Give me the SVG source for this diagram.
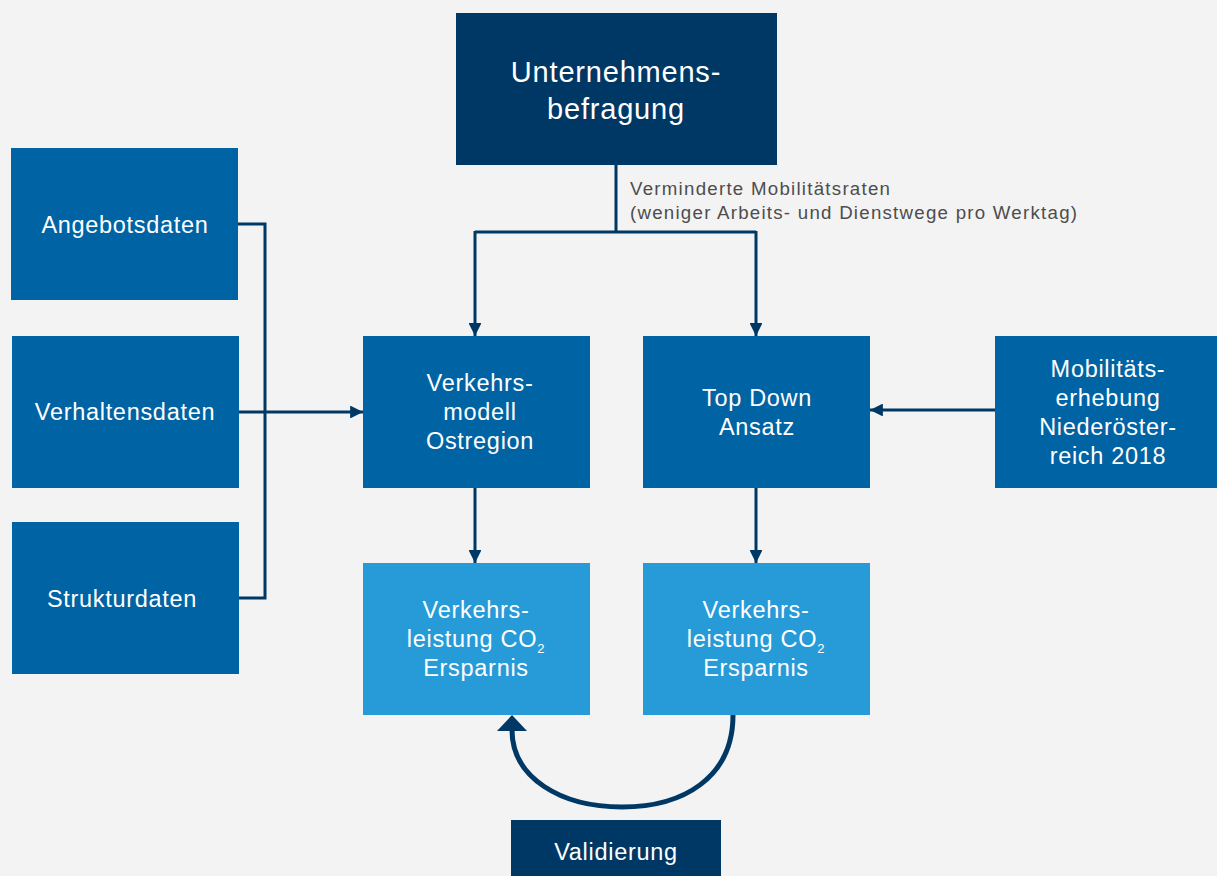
<svg xmlns="http://www.w3.org/2000/svg" width="1217" height="876" viewBox="0 0 1217 876">
<defs>
<style>
.bg{fill:#f3f3f3}
.dark{fill:#003865}
.mid{fill:#0063a3}
.light{fill:#269bd8}
.t{font-family:"Liberation Sans",Arial,sans-serif;fill:#ffffff;text-anchor:middle;font-size:23.5px;letter-spacing:0.7px}
.big{font-size:29px;letter-spacing:0.8px}
.lbl{font-family:"Liberation Sans",Arial,sans-serif;fill:#4d4d4d;font-size:18.7px}
.c{fill:none;stroke:#003865;stroke-width:3}
</style>
<marker id="ah" viewBox="0 0 10 10" refX="10" refY="5" markerWidth="4.3" markerHeight="4.3" orient="auto" markerUnits="strokeWidth">
<path d="M0,0 L10,5 L0,10 z" fill="#003865"/>
</marker>
</defs>
<rect class="bg" x="0" y="0" width="1217" height="876"/>
<g id="connectors">
<path class="c" d="M616,165 V232 M475,232 H756"/>
<path class="c" d="M475,231 V336" marker-end="url(#ah)"/>
<path class="c" d="M756,231 V336" marker-end="url(#ah)"/>
<path class="c" d="M238,224 H265 V598 H239"/>
<path class="c" d="M239,412 H363" marker-end="url(#ah)"/>
<path class="c" d="M995,410 H870" marker-end="url(#ah)"/>
<path class="c" d="M475,488 V563" marker-end="url(#ah)"/>
<path class="c" d="M756,488 V563" marker-end="url(#ah)"/>
<path d="M733,715 C733,778 683,807 622,807 C561,807 512,778 512,730" fill="none" stroke="#003865" stroke-width="5"/>
<path d="M497,731 L512,715 L527,731 z" fill="#003865"/>
<text class="lbl" x="630" y="195" textLength="260" lengthAdjust="spacing">Verminderte Mobilitätsraten</text>
<text class="lbl" x="630" y="219" textLength="447" lengthAdjust="spacing">(weniger Arbeits- und Dienstwege pro Werktag)</text>
</g>
<g id="n-unternehmen">
<rect class="dark" x="456" y="13" width="321" height="152"/>
<text class="t big" x="616" y="82">Unternehmens-</text>
<text class="t big" x="616" y="119">befragung</text>
</g>
<g id="n-angebot">
<rect class="mid" x="11" y="148" width="227" height="152"/>
<text class="t" x="125" y="233">Angebotsdaten</text>
</g>
<g id="n-verhalten">
<rect class="mid" x="12" y="336" width="227" height="152"/>
<text class="t" x="125" y="420">Verhaltensdaten</text>
</g>
<g id="n-struktur">
<rect class="mid" x="12" y="522" width="227" height="152"/>
<text class="t" x="122" y="607">Strukturdaten</text>
</g>
<g id="n-verkehrsmodell">
<rect class="mid" x="363" y="336" width="227" height="152"/>
<text class="t" x="480" y="391">Verkehrs-</text>
<text class="t" x="480" y="420">modell</text>
<text class="t" x="480" y="449">Ostregion</text>
</g>
<g id="n-topdown">
<rect class="mid" x="643" y="336" width="227" height="152"/>
<text class="t" x="757" y="406">Top Down</text>
<text class="t" x="757" y="435">Ansatz</text>
</g>
<g id="n-mobilitaet">
<rect class="mid" x="995" y="336" width="222" height="152"/>
<text class="t" x="1108" y="377">Mobilitäts-</text>
<text class="t" x="1108" y="406">erhebung</text>
<text class="t" x="1108" y="435">Niederöster-</text>
<text class="t" x="1108" y="464">reich 2018</text>
</g>
<g id="n-leistung1">
<rect class="light" x="363" y="563" width="227" height="152"/>
<text class="t" x="476" y="618">Verkehrs-</text>
<text class="t" x="476" y="647">leistung CO<tspan font-size="13" dy="6">2</tspan></text>
<text class="t" x="476" y="676">Ersparnis</text>
</g>
<g id="n-leistung2">
<rect class="light" x="643" y="563" width="227" height="152"/>
<text class="t" x="756" y="618">Verkehrs-</text>
<text class="t" x="756" y="647">leistung CO<tspan font-size="13" dy="6">2</tspan></text>
<text class="t" x="756" y="676">Ersparnis</text>
</g>
<g id="n-validierung">
<rect class="dark" x="511" y="820" width="210" height="56"/>
<text class="t" x="616" y="860">Validierung</text>
</g>
</svg>
